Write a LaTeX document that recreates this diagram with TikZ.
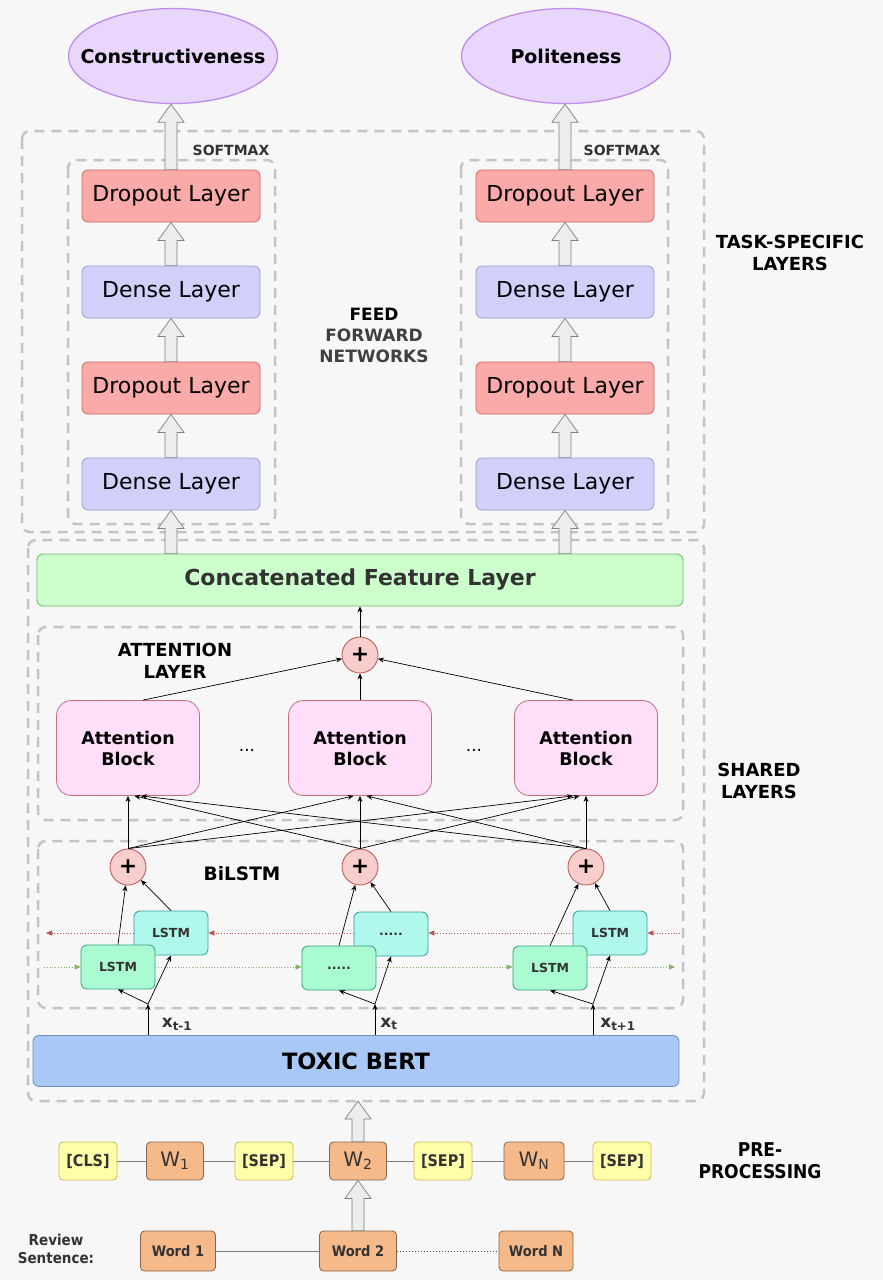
\documentclass[tikz,border=0pt]{standalone}
\usepackage{fontspec}
\setmainfont{DejaVu Sans}
\newfontfamily\condfont{DejaVu Sans Condensed}
\usepackage{xcolor}
\definecolor{bggray}{RGB}{247,247,247}
\definecolor{dashgray}{RGB}{196,196,196}
\definecolor{outfill}{RGB}{232,214,252}
\definecolor{outdraw}{RGB}{190,140,235}
\definecolor{dropfill}{RGB}{250,170,168}
\definecolor{dropdraw}{RGB}{208,100,100}
\definecolor{densefill}{RGB}{208,208,250}
\definecolor{densedraw}{RGB}{140,160,215}
\definecolor{concatfill}{RGB}{204,255,204}
\definecolor{concatdraw}{RGB}{110,180,100}
\definecolor{attfill}{RGB}{255,222,250}
\definecolor{attdraw}{RGB}{200,110,130}
\definecolor{plusfill}{RGB}{248,206,204}
\definecolor{plusdraw}{RGB}{184,84,80}
\definecolor{fwdfill}{RGB}{170,250,210}
\definecolor{fwddraw}{RGB}{50,160,130}
\definecolor{bwdfill}{RGB}{175,248,235}
\definecolor{bwddraw}{RGB}{50,160,160}
\definecolor{bertfill}{RGB}{169,200,245}
\definecolor{bertdraw}{RGB}{108,142,191}
\definecolor{tokfill}{RGB}{255,255,170}
\definecolor{tokdraw}{RGB}{214,182,86}
\definecolor{wordfill}{RGB}{245,185,138}
\definecolor{worddraw}{RGB}{140,100,70}
\definecolor{backred}{RGB}{184,84,80}
\definecolor{fwdgreen}{RGB}{130,179,102}
\definecolor{textdark}{RGB}{51,51,51}
\usetikzlibrary{
    shapes.geometric,
    arrows.meta,
    positioning,
    calc
}

\tikzset{
    layerbox/.style={draw, rounded corners=6pt, minimum width=178pt, minimum height=52pt,
        inner sep=0pt, line width=0.8pt, font=\fontsize{22}{24}\selectfont},
    dropbox/.style={layerbox, fill=dropfill, draw=dropdraw},
    densebox/.style={layerbox, fill=densefill, draw=densedraw},
    outbox/.style={ellipse, fill=outfill, draw=outdraw, line width=1.3pt, inner sep=0pt,
        minimum width=209pt, minimum height=95pt, label={[font=\bfseries\fontsize{19}{20}\selectfont]center:#1}},
    groupbox/.style={draw=dashgray, line width=2.5pt, dash pattern=on 10pt off 7pt, rounded corners=8pt},
    tag/.style={font=\bfseries\fontsize{18}{22}\selectfont, align=center},
    attbox/.style={draw=attdraw, fill=attfill, rounded corners=15pt, line width=0.8pt,
        minimum width=143pt, minimum height=95pt, align=center, inner sep=0pt,
        font=\bfseries\fontsize{17.5}{21}\selectfont},
    plusnode/.style={circle, draw=plusdraw, fill=plusfill, line width=0.8pt, minimum size=36pt,
        inner sep=0pt, font=\bfseries\fontsize{22}{22}\selectfont},
    lstmbox/.style={rounded corners=6pt, line width=0.8pt, minimum width=74pt, minimum height=44pt,
        inner sep=0pt, text=textdark, font=\bfseries\fontsize{12.5}{14}\selectfont},
    fwdbox/.style={lstmbox, draw=fwddraw, fill=fwdfill},
    bwdbox/.style={lstmbox, draw=bwddraw, fill=bwdfill},
    arr/.style={-{Stealth[length=6pt,width=5pt]}, line width=0.7pt, black},
    backarr/.style={-{Triangle[length=6pt,width=5pt]}, dotted, line width=0.8pt, backred},
    fwdarr/.style={-{Triangle[length=6pt,width=5pt]}, dotted, line width=0.8pt, fwdgreen},
    hollowarrow/.style={fill=black!7, draw=black!50, line width=0.7pt},
    xlabel/.style={text=textdark, font=\bfseries\fontsize{17}{20}\selectfont},
    tokbox/.style={draw=tokdraw, fill=tokfill, rounded corners=4pt, line width=0.8pt,
        minimum width=58pt, minimum height=38pt, inner sep=0pt, text=textdark,
        font=\condfont\bfseries\fontsize{16}{18}\selectfont},
    wbox/.style={draw=worddraw, fill=wordfill, rounded corners=4pt, line width=0.8pt,
        minimum width=57pt, minimum height=38pt, inner sep=0pt, text=textdark,
        font=\fontsize{20}{20}\selectfont},
    wordbox/.style={draw=worddraw, fill=wordfill, rounded corners=4pt, line width=0.8pt,
        minimum width=75pt, minimum height=40pt, inner sep=0pt, text=textdark,
        font=\condfont\bfseries\fontsize{14.5}{16}\selectfont},
    link/.style={draw=black!50, line width=1pt}
}

% hollow block arrow from #1 (tail) up to #2 (tip)
\newcommand{\fatarrow}[2]{%
    \draw[hollowarrow] let \p1=(#1), \p2=(#2) in
        (\x1-6pt,\y1) -- (\x1-6pt,\y2-18pt) -- (\x1-13pt,\y2-18pt) -- (\x1,\y2)
        -- (\x1+13pt,\y2-18pt) -- (\x1+6pt,\y2-18pt) -- (\x1+6pt,\y1) -- cycle;}

\begin{document}
\begin{tikzpicture}[x=1pt, y=-1pt]
    \fill[bggray] (0,0) rectangle (883,1280);
    \useasboundingbox (0,0) rectangle (883,1280);

    % Group frames
    \draw[groupbox] (22,131) rectangle (704,532);
    \draw[groupbox] (68,160) rectangle (275,524);
    \draw[groupbox] (461,160) rectangle (668,524);
    \draw[groupbox] (28,540) rectangle (704,1101);
    \draw[groupbox] (38,627) rectangle (683,820);
    \draw[groupbox] (38,841) rectangle (683,1008);

    % Outputs
    \node[outbox=Constructiveness] (con) at (173,56) {};
    \node[outbox=Politeness] (pol) at (566,56) {};

    % Task-specific layers, left
    \node[dropbox] (dropLa) at (171,196) {Dropout Layer};
    \node[densebox] (denseLa) at (171,292) {Dense Layer};
    \node[dropbox] (dropLb) at (171,388) {Dropout Layer};
    \node[densebox] (denseLb) at (171,484) {Dense Layer};

    % Task-specific layers, right
    \node[dropbox] (dropRa) at (565,196) {Dropout Layer};
    \node[densebox] (denseRa) at (565,292) {Dense Layer};
    \node[dropbox] (dropRb) at (565,388) {Dropout Layer};
    \node[densebox] (denseRb) at (565,484) {Dense Layer};

    \node[font=\bfseries\fontsize{14}{16}\selectfont, text=textdark] at (231,150) {SOFTMAX};
    \node[font=\bfseries\fontsize{14}{16}\selectfont, text=textdark] at (622,150) {SOFTMAX};
    \node[tag, font=\bfseries\fontsize{17}{21}\selectfont] at (374,335) {FEED\\\textcolor{black!75}{FORWARD}\\\textcolor{black!75}{NETWORKS}};
    \node[tag] at (790,253) {TASK-SPECIFIC\\LAYERS};

    % Shared layers
    \node[draw=concatdraw, fill=concatfill, rounded corners=6pt, line width=0.8pt,
        minimum width=646pt, minimum height=52pt, inner sep=0pt, text=textdark,
        font=\bfseries\fontsize{22}{24}\selectfont] (concat) at (360,580) {Concatenated Feature Layer};

    \node[plusnode] (plustop) at (360,655) {+};
    \node[tag] at (175,661) {ATTENTION\\LAYER};
    \node[attbox] (att1) at (128,748) {Attention\\Block};
    \node[attbox] (att2) at (360,748) {Attention\\Block};
    \node[attbox] (att3) at (586,748) {Attention\\Block};
    \node[font=\fontsize{17}{20}\selectfont] at (247,750) {...};
    \node[font=\fontsize{17}{20}\selectfont] at (474,750) {...};
    \node[tag] at (759,781) {SHARED\\LAYERS};

    \node[plusnode] (p1) at (128,867) {+};
    \node[plusnode] (p2) at (360,867) {+};
    \node[plusnode] (p3) at (586,867) {+};
    \node[font=\bfseries\fontsize{18.5}{20}\selectfont] at (242,874) {BiLSTM};

    % BiLSTM cells (backward behind forward)
    \node[bwdbox] (b1) at (171,933) {LSTM};
    \node[bwdbox] (b2) at (391,934) {.....};
    \node[bwdbox] (b3) at (610,933) {LSTM};
    \node[fwdbox] (f1) at (118,967) {LSTM};
    \node[fwdbox] (f2) at (339,968) {.....};
    \node[fwdbox] (f3) at (550,968) {LSTM};

    \coordinate (xin1) at (148,1004);
    \coordinate (xin2) at (375,1004);
    \coordinate (xin3) at (593,1004);
    \node[xlabel] at (177,1024) {x\textsubscript{t-1}};
    \node[xlabel] at (389,1024) {x\textsubscript{t}};
    \node[xlabel] at (618,1024) {x\textsubscript{t+1}};

    \node[draw=bertdraw, fill=bertfill, rounded corners=6pt, line width=0.8pt,
        minimum width=646pt, minimum height=51pt, inner sep=0pt,
        font=\bfseries\fontsize{22.5}{24}\selectfont] (bert) at (356,1061) {TOXIC BERT};
    \coordinate (sharedbot) at (358,1101);

    % Pre-processing
    \node[tokbox] (cls) at (88,1161) {[CLS]};
    \node[wbox] (w1) at (175,1161) {W\textsubscript{1}};
    \node[tokbox] (sep1) at (264,1161) {[SEP]};
    \node[wbox] (w2) at (358,1161) {W\textsubscript{2}};
    \node[tokbox] (sep2) at (443,1161) {[SEP]};
    \node[wbox, minimum width=60pt] (wn) at (534,1161) {W\textsubscript{N}};
    \node[tokbox] (sep3) at (622,1161) {[SEP]};
    \node[font=\condfont\bfseries\fontsize{19}{22}\selectfont, align=center] at (760,1161) {PRE-\\PROCESSING};

    % Review sentence
    \node[wordbox] (word1) at (178,1251) {Word 1};
    \node[wordbox, minimum width=77pt] (word2) at (358,1251) {Word 2};
    \node[wordbox, minimum width=74pt] (wordn) at (536,1251) {Word N};
    \node[font=\condfont\bfseries\fontsize{15}{18}\selectfont, text=textdark, align=center] at (56,1249) {Review\\Sentence:};

    % Hollow arrows
    \fatarrow{dropLa.north}{con.south}
    \fatarrow{denseLa.north}{dropLa.south}
    \fatarrow{dropLb.north}{denseLa.south}
    \fatarrow{denseLb.north}{dropLb.south}
    \fatarrow{denseLb.south |- concat.north}{denseLb.south}
    \fatarrow{dropRa.north}{pol.south}
    \fatarrow{denseRa.north}{dropRa.south}
    \fatarrow{dropRb.north}{denseRa.south}
    \fatarrow{denseRb.north}{dropRb.south}
    \fatarrow{denseRb.south |- concat.north}{denseRb.south}
    \fatarrow{w2.north}{sharedbot}
    \fatarrow{word2.north}{w2.south}

    % Attention to sum
    \draw[arr] (plustop.north) -- (plustop.north |- concat.south);
    \draw[arr] ([xshift=15pt]att1.north) -- (plustop);
    \draw[arr] (att2.north) -- (plustop.south);
    \draw[arr] ([xshift=-13pt]att3.north) -- (plustop);

    % BiLSTM outputs to every attention block
    \foreach \i in {1,2,3}
        \foreach \j in {1,2,3}
            \draw[arr] (p\i.north) -- ([xshift={(\i-\j)*6.5pt}]att\j.south);

    % Cell outputs to sums
    \draw[arr] (f1.north) -- (p1);
    \draw[arr] (b1.north) -- (p1);
    \draw[arr] (f2.north) -- (p2);
    \draw[arr] (b2.north) -- (p2);
    \draw[arr] (f3.north) -- (p3);
    \draw[arr] (b3.north) -- (p3);

    % Inputs to cells
    \draw[arr] (xin1 |- bert.north) -- (xin1);
    \draw[arr] (xin1) -- (f1.south);
    \draw[arr] (xin1) -- (b1.south);
    \draw[arr] (xin2 |- bert.north) -- (xin2);
    \draw[arr] (xin2) -- (f2.south);
    \draw[arr] (xin2) -- (b2.south);
    \draw[arr] (xin3 |- bert.north) -- (xin3);
    \draw[arr] (xin3) -- (f3.south);
    \draw[arr] (xin3) -- (b3.south);

    % Recurrent links
    \coordinate (bwdin) at (680,933);
    \coordinate (bwdout) at (46,933);
    \coordinate (fwdin) at (44,967);
    \coordinate (fwdout) at (675,967);
    \draw[backarr] (bwdin) -- (b3.east |- bwdin);
    \draw[backarr] (b3.west |- bwdin) -- (b2.east |- bwdin);
    \draw[backarr] (b2.west |- bwdin) -- (b1.east |- bwdin);
    \draw[backarr] (b1.west |- bwdin) -- (bwdout);
    \draw[fwdarr] (fwdin) -- (f1.west |- fwdin);
    \draw[fwdarr] (f1.east |- fwdin) -- (f2.west |- fwdin);
    \draw[fwdarr] (f2.east |- fwdin) -- (f3.west |- fwdin);
    \draw[fwdarr] (f3.east |- fwdin) -- (fwdout);

    % Token links
    \draw[link] (cls) -- (w1) -- (sep1) -- (w2) -- (sep2) -- (wn) -- (sep3);
    \draw[link] (word1) -- (word2);
    \draw[dotted, line width=1pt, black!70] (word2) -- (wordn);
\end{tikzpicture}
\end{document}
